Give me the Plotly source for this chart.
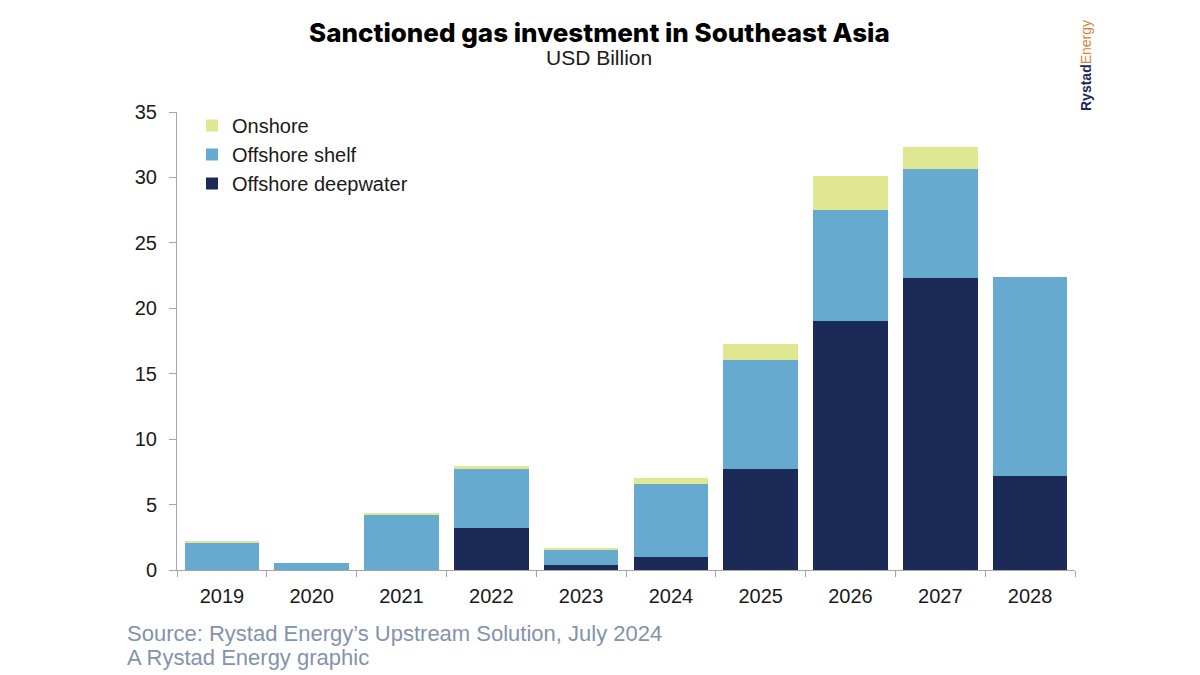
import plotly.graph_objects as go

years = ["2019", "2020", "2021", "2022", "2023", "2024", "2025", "2026", "2027", "2028"]
deepwater = [0, 0, 0, 3.2, 0.4, 0.97, 7.7, 19.0, 22.3, 7.18]
shelf = [2.13, 0.55, 4.25, 4.5, 1.16, 5.63, 8.35, 8.5, 8.34, 15.19]
onshore = [0.05, 0.0, 0.05, 0.25, 0.05, 0.43, 1.22, 2.58, 1.66, 0.0]

W, H = 1200, 675
L, R, T, B = 177, 125, 112, 105
pw, ph = W - L - R, H - T - B


def px(x):
    return (x - L) / pw


def py(y):
    return (H - B - y) / ph


fig = go.Figure()
fig.add_bar(x=years, y=deepwater, name="Offshore deepwater", marker_color="#1b2a57",
            marker_line_width=0)
fig.add_bar(x=years, y=shelf, name="Offshore shelf", marker_color="#66abcf",
            marker_line_width=0)
fig.add_bar(x=years, y=onshore, name="Onshore", marker_color="#dfe792",
            marker_line_width=0)

axis_col = "#a6a6a6"
tick_font = dict(size=20, color="#1a1a1a")
fig.update_layout(
    width=W, height=H,
    barmode="stack", bargap=0.17,
    plot_bgcolor="white", paper_bgcolor="white",
    margin=dict(l=L, r=R, t=T, b=B),
    font=dict(family="Liberation Sans, Arial, sans-serif", color="#1a1a1a", size=17),
    showlegend=True,
    legend=dict(x=px(192), y=py(106), xanchor="left", yanchor="top", traceorder="reversed",
                font=dict(size=20, color="#1a1a1a"), bgcolor="rgba(0,0,0,0)",
                itemwidth=30, tracegroupgap=0),
    xaxis=dict(showline=True, linecolor=axis_col, linewidth=1, ticks="outside",
               tickson="boundaries", ticklen=6, tickcolor=axis_col,
               ticklabelstandoff=8, tickfont=tick_font, showgrid=False),
    yaxis=dict(range=[0, 35], dtick=5, showline=True, linecolor=axis_col, linewidth=1,
               ticks="outside", ticklen=7, tickcolor=axis_col, showgrid=False,
               ticklabelstandoff=8, zeroline=False, tickfont=tick_font),
)

fig.add_annotation(text="Sanctioned gas investment in Southeast Asia",
                   xref="paper", yref="paper", x=px(599), y=py(32), xanchor="center",
                   yanchor="middle", showarrow=False,
                   font=dict(size=26, family="Inter, sans-serif", color="#000000", weight=800))
fig.add_annotation(text="USD Billion", xref="paper", yref="paper", x=px(599), y=py(57),
                   xanchor="center", yanchor="middle", showarrow=False,
                   font=dict(size=21, color="#1a1a1a"))
fig.add_annotation(text="Source: Rystad Energy’s Upstream Solution, July 2024",
                   xref="paper", yref="paper", x=px(125), y=py(633), xanchor="left",
                   yanchor="middle", showarrow=False,
                   font=dict(size=22, color="#8393ab"))
fig.add_annotation(text="A Rystad Energy graphic",
                   xref="paper", yref="paper", x=px(125), y=py(657), xanchor="left",
                   yanchor="middle", showarrow=False,
                   font=dict(size=22, color="#8393ab"))
fig.add_annotation(text="<b>Rystad</b><span style='color:#d9823b'>Energy</span>",
                   xref="paper", yref="paper", x=px(1086), y=py(66), xanchor="center",
                   yanchor="middle", textangle=-90, showarrow=False,
                   font=dict(size=14, color="#1b2a57", family="Liberation Sans, Arial, sans-serif"))

fig.write_html("out.html")
